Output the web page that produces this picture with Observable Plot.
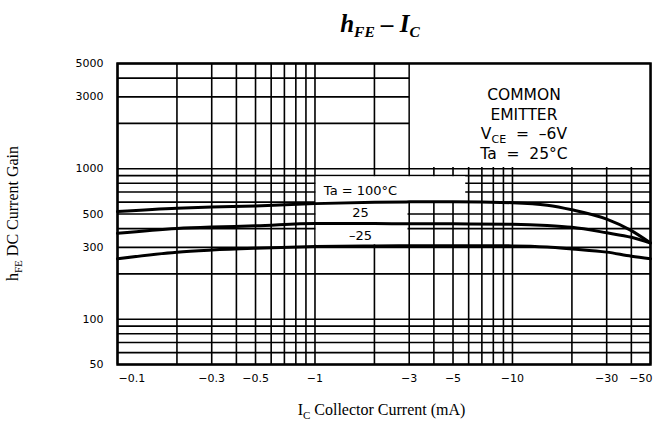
<!DOCTYPE html>
<html>
<head>
<meta charset="utf-8">
<script src="https://cdn.jsdelivr.net/npm/d3@7"></script>
<script src="https://cdn.jsdelivr.net/npm/@observablehq/plot@0.6"></script>
<style>
  html, body { margin: 0; padding: 0; background: #fff; }
  #wrap { width: 653px; height: 426px; position: relative; overflow: hidden; }
  #title { height: 50px; box-sizing: border-box; padding-left: 107px; padding-top: 11px;
           text-align: center; font: italic bold 25px "Liberation Serif", serif; line-height: 26px; color: #000; }
  #title sub { font-size: 0.62em; vertical-align: -0.3em; line-height: 0; }
  #chart svg { display: block; overflow: visible; }
</style>
</head>
<body>
<div id="wrap">
  <div id="title">h<sub>FE</sub> – I<sub>C</sub></div>
  <div id="chart"></div>
</div>
<script>
// ---- data ----
const icValues = [0.1, 0.2, 0.3, 0.5, 1, 2, 3, 5, 10, 15, 20, 30, 40, 50];   // -Ic (mA)
const hfeTa100 = [519, 546, 556, 565, 586, 598, 602, 603, 594, 572, 533, 462, 388, 321];
const hfeTa25  = [372, 401, 410, 417, 433, 432, 431, 430, 428, 420, 408, 375, 350, 321];
const hfeTaM25 = [252, 279, 288, 296, 304, 307, 308, 308, 307, 302, 293, 279, 262, 252];
const seriesNames = ["Ta = 100°C", "25", "–25"];

const xTickValues = [0.1, 0.3, 0.5, 1, 3, 5, 10, 30, 50];
const xTickLabels = ["−0.1", "−0.3", "−0.5", "−1", "−3", "−5", "−10", "−30", "−50"];
const yTickValues = [50, 100, 300, 500, 1000, 3000, 5000];
const xGridValues = [0.1, 0.2, 0.3, 0.4, 0.5, 0.6, 0.7, 0.8, 0.9, 1, 2, 3, 4, 5, 6, 7, 8, 9, 10, 20, 30, 40, 50];
const yGridValues = [50, 60, 70, 80, 90, 100, 200, 300, 400, 500, 600, 700, 800, 900, 1000, 2000, 3000, 4000, 5000];

// curve labels (data coords)
const labelTexts = ["Ta = 100°C", "25", "–25"];
const labelIc    = [1.7, 1.7, 1.7];
const labelHfe   = [709, 511, 358];

// conditions note
const noteLines = ["COMMON", "EMITTER", "VCE = –6V", "Ta = 25°C"];
const noteIc = 11.5;
const noteHfe = [2845, 2099, 1552, 1146];

// white cut-outs in the grid (data coords)
const noteBox  = [{x1: 3, x2: 50, y1: 1000, y2: 5000}];
const labelBox = [{x1: 1, x2: 5.8, y1: 594, y2: 900}];
const gapBox   = [{x1: 1, x2: 3, y1: 312, y2: 600}];

// ---- build tables ----
const rows = [];
[hfeTa100, hfeTa25, hfeTaM25].forEach((vals, s) => {
  icValues.forEach((ic, i) => rows.push({ic, hfe: vals[i], series: seriesNames[s]}));
});
const labels = labelTexts.map((t, i) => ({t, ic: labelIc[i], hfe: labelHfe[i]}));
const xTicks = xTickValues.map((v, i) => ({v, t: xTickLabels[i]}));
const lastI = xTicks.length - 1;

const tickText = {x: "v", text: "t", frameAnchor: "bottom", dy: 17, fontSize: 11, fill: "#000"};

const plot = Plot.plot({
  width: 653,
  height: 376,
  marginLeft: 117,
  marginRight: 3,
  marginTop: 13,
  marginBottom: 62,
  style: {fontFamily: "'DejaVu Sans', sans-serif", fontSize: "11px", color: "#000", background: "#fff"},
  x: {type: "log", domain: [0.1, 50], axis: null},
  y: {type: "log", domain: [50, 5000]},
  marks: [
    Plot.ruleX(xGridValues, {stroke: "#000", strokeWidth: 1.6}),
    Plot.ruleY(yGridValues, {stroke: "#000", strokeWidth: 1.6}),
    Plot.rect(noteBox, {x1: "x1", x2: "x2", y1: "y1", y2: "y2", fill: "#fff", insetLeft: 1.2, insetBottom: 1.2}),
    Plot.rect(labelBox, {x1: "x1", x2: "x2", y1: "y1", y2: "y2", fill: "#fff", insetLeft: 1.2, insetTop: 1.2}),
    Plot.rect(gapBox, {x1: "x1", x2: "x2", y1: "y1", y2: "y2", fill: "#fff", insetLeft: 1.2, insetRight: 1.2}),
    Plot.line(rows, {x: "ic", y: "hfe", z: "series", stroke: "#000", strokeWidth: 3, curve: "monotone-x"}),
    Plot.text(labels, {x: "ic", y: "hfe", text: "t", fontSize: 13, fill: "#000"}),
    Plot.frame({stroke: "#000", strokeWidth: 2.5}),
    Plot.axisY({ticks: yTickValues, tickSize: 0, tickPadding: 14, label: null, fontSize: 11, tickFormat: d3.format("d")}),
    Plot.text(xTicks.slice(1, lastI), tickText),
    Plot.text(xTicks.slice(0, 1), {...tickText, textAnchor: "start", dx: 1}),
    Plot.text(xTicks.slice(lastI), {...tickText, textAnchor: "end", dx: 2})
  ]
});

document.getElementById("chart").appendChild(plot);

// ---- rich-text annotations (subscripts) placed through the plot's scales ----
const svg = d3.select(plot);
const sx = plot.scale("x"), sy = plot.scale("y");
const [rx0, rx1] = sx.range, [ry0, ry1] = sy.range;

// conditions note
noteLines.forEach((line, i) => {
  const t = svg.append("text")
    .attr("x", sx.apply(noteIc)).attr("y", sy.apply(noteHfe[i]))
    .attr("text-anchor", "middle")
    .attr("font-family", "'DejaVu Sans', sans-serif")
    .attr("font-size", 15.5).attr("fill", "#000");
  if (line.startsWith("VCE")) {
    t.append("tspan").text("V");
    t.append("tspan").attr("dy", 4).attr("font-size", 11).text("CE");
    t.append("tspan").attr("dy", -4).text("\u00A0 =\u00A0 –6V");
  } else {
    t.text(line.replace(/ = /, "\u00A0 =\u00A0 "));
  }
});

// x axis title
const xt = svg.append("text")
  .attr("x", (rx0 + rx1) / 2 - 2).attr("y", Math.max(ry0, ry1) + 51)
  .attr("text-anchor", "middle")
  .attr("font-family", "'Liberation Serif', serif").attr("font-size", 16).attr("fill", "#000");
xt.append("tspan").text("I");
xt.append("tspan").attr("dy", 4).attr("font-size", 11).text("C");
xt.append("tspan").attr("dy", -4).text(" Collector Current (mA)");

// y axis title
const yt = svg.append("text")
  .attr("transform", `translate(18,${(ry0 + ry1) / 2}) rotate(-90)`)
  .attr("text-anchor", "middle")
  .attr("font-family", "'Liberation Serif', serif").attr("font-size", 16).attr("fill", "#000");
yt.append("tspan").text("h");
yt.append("tspan").attr("dy", 4).attr("font-size", 11).text("FE");
yt.append("tspan").attr("dy", -4).text(" DC Current Gain");
</script>
</body>
</html>
